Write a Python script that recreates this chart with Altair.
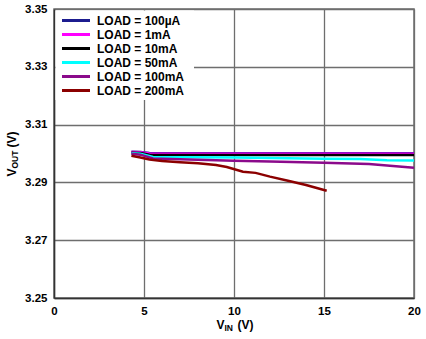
import altair as alt
import pandas as pd

# ---- data ----
loads = ["LOAD = 100µA", "LOAD = 1mA", "LOAD = 10mA", "LOAD = 50mA", "LOAD = 100mA", "LOAD = 200mA"]
colors = ["#1c1c8f", "#ff00ff", "#000000", "#00ffff", "#8b0a8b", "#8b0000"]

vin_100u = [4.3, 4.8, 5.3, 6.0, 10.0, 15.0, 20.0]
vout_100u = [3.3006, 3.3005, 3.3002, 3.3001, 3.3001, 3.3001, 3.3001]

vin_1m = [4.3, 4.8, 5.3, 6.0, 10.0, 15.0, 17.0, 20.0]
vout_1m = [3.3005, 3.3004, 3.3000, 3.2999, 3.2999, 3.2999, 3.2999, 3.2999]

vin_10m = [4.3, 4.8, 5.3, 6.0, 10.0, 15.0, 20.0]
vout_10m = [3.3003, 3.3002, 3.2996, 3.2995, 3.2995, 3.2995, 3.2995]

vin_50m = [4.3, 4.8, 5.5, 10.0, 15.0, 17.0, 18.5, 20.0]
vout_50m = [3.3001, 3.2999, 3.2988, 3.2986, 3.2982, 3.2981, 3.2977, 3.2976]

vin_100m = [4.3, 4.8, 5.5, 7.0, 10.0, 12.0, 15.0, 17.5, 20.0]
vout_100m = [3.2999, 3.2996, 3.2983, 3.2980, 3.2975, 3.2972, 3.2968, 3.2964, 3.2951]

vin_200m = [4.3, 4.8, 5.3, 6.0, 7.0, 8.0, 9.0, 9.6, 10.5, 11.2, 12.0, 13.0, 14.0, 15.15]
vout_200m = [3.2992, 3.2986, 3.2979, 3.2974, 3.2970, 3.2966, 3.2960, 3.2953, 3.2937, 3.2933, 3.2920, 3.2906, 3.2891, 3.2871]

series = [
    (vin_100u, vout_100u),
    (vin_1m, vout_1m),
    (vin_10m, vout_10m),
    (vin_50m, vout_50m),
    (vin_100m, vout_100m),
    (vin_200m, vout_200m),
]

x_ticks = [0, 5, 10, 15, 20]
y_ticks = [3.25, 3.27, 3.29, 3.31, 3.33, 3.35]

FONT = "Liberation Sans"

color_scale = alt.Scale(domain=loads, range=colors)
x_enc = alt.X("vin:Q", scale=alt.Scale(domain=[0, 20], nice=False),
              axis=alt.Axis(values=x_ticks, format="d", title=None, labelFlush=False,
                            labelOverlap=False, ticks=False, labelPadding=7))
y_enc = alt.Y("vout:Q", scale=alt.Scale(domain=[3.25, 3.35], nice=False, zero=False),
              axis=alt.Axis(values=y_ticks, format=".2f", title=None, labelFlush=False,
                            labelOverlap=False, ticks=False, labelPadding=7))

line_layers = []
for name, (xs, ys) in zip(loads, series):
    df = pd.DataFrame({"vin": xs, "vout": ys, "load": [name] * len(xs)})
    line_layers.append(
        alt.Chart(df).mark_line(strokeWidth=2.5, clip=True).encode(
            x=x_enc, y=y_enc,
            color=alt.Color("load:N", scale=color_scale, legend=None),
        )
    )
lines = alt.layer(*line_layers)

# legend (manual, inside the plot, top-left)
leg_df = pd.DataFrame({"load": loads, "row": list(range(len(loads)))})
leg_y = alt.Y("row:Q", scale=alt.Scale(domain=[0, len(loads) - 1], range=[11.5, 81.5]), axis=None)

leg_bg = alt.Chart(pd.DataFrame({"a": [0]})).mark_rect(fill="white").encode(
    x=alt.value(1.5), x2=alt.value(140), y=alt.value(1.5), y2=alt.value(91)
)
leg_sym = alt.Chart(leg_df).mark_rule(strokeWidth=3).encode(
    x=alt.value(8), x2=alt.value(36), y=leg_y,
    color=alt.Color("load:N", scale=color_scale, legend=None),
)
leg_txt = alt.Chart(leg_df).mark_text(
    align="left", baseline="middle", font=FONT, fontWeight="bold", fontSize=12, color="black"
).encode(x=alt.value(43), y=leg_y, text="load:N")
legend = alt.layer(leg_sym, leg_txt)


def txt(s, x, y, size, angle=0, align="left"):
    kw = dict(align=align, baseline="middle", font=FONT, fontWeight="bold",
              fontSize=size, color="black")
    if angle:
        kw["angle"] = angle
    return alt.Chart(pd.DataFrame({"t": [s]})).mark_text(**kw).encode(
        text="t:N", x=alt.value(x), y=alt.value(y)
    )

# axis titles with subscripts
x_title = [
    txt("V", 162.5, 316, 12),
    txt("IN", 170.5, 319, 8.5),
    txt("(V)", 183.5, 316, 12),
]
y_title = [
    txt("V", -42, 167.5, 12, angle=270),
    txt("OUT", -39, 159.5, 8.5, angle=270),
    txt("(V)", -42, 138.5, 12, angle=270),
]

chart = alt.layer(
    lines, leg_bg, legend, *x_title, *y_title
).resolve_scale(y="independent").properties(
    width=360, height=289,
    autosize=alt.AutoSizeParams(type="none"),
    padding={"left": 54, "top": 9, "right": 12, "bottom": 41},
).configure_view(
    stroke="#6e6e6e", strokeWidth=1.5
).configure_axis(
    grid=True, gridColor="#6e6e6e", gridWidth=1.3,
    domainColor="#333333", domainWidth=1.5,
    labelFont=FONT, labelFontWeight="bold", labelFontSize=11.5, labelColor="black",
)

chart.save("out.html", embed_options={"renderer": "svg", "actions": False})
